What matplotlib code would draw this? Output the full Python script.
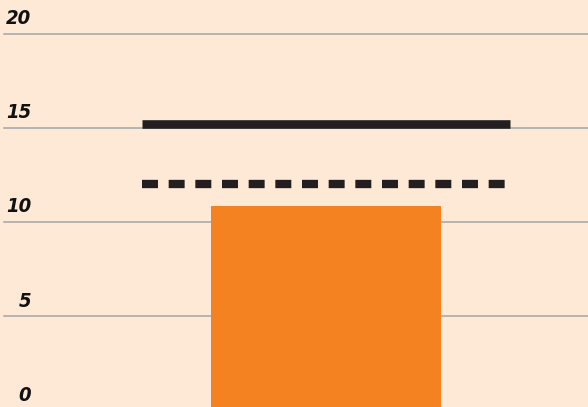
import matplotlib
matplotlib.use("Agg")
from matplotlib import pyplot as plt
from matplotlib import transforms

# data
categories = ['']
bar_values = [10.85]
target_solid = [15.2]
target_dashed = [12.0]
y_ticks = [0, 5, 10, 15, 20]

bg = '#fde9d6'
orange = '#f58220'
dark = '#231f20'
grid_gray = '#a3a5a8'

plt.rcParams['lines.scale_dashes'] = False
plt.rcParams['font.family'] = ['DejaVu Sans']

W, H = 588, 407
fig = plt.figure(figsize=(W / 100, H / 100), dpi=100)
fig.patch.set_facecolor(bg)
ax = fig.add_axes([0, 0, 1, 1])
ax.set_facecolor(bg)

# pixel-based limits: y=0 sits a little below the bottom edge
px_per_unit = 18.84
y0_px = 410.3
ax.set_ylim((y0_px - H) / px_per_unit, y0_px / px_per_unit)
bar_center_px, bar_px_per_x = 326, 460
ax.set_xlim(-bar_center_px / bar_px_per_x, (W - bar_center_px) / bar_px_per_x)

for t in y_ticks:
    ax.axhline(t, xmin=4 / W, xmax=1, color=grid_gray, lw=1.1, zorder=1)

xs = range(len(categories))
ax.bar(xs, bar_values, width=0.5, color=orange, zorder=2)

for i, (s, d) in enumerate(zip(target_solid, target_dashed)):
    ax.plot([i - 0.4, i + 0.4], [s, s], color=dark, lw=6.2,
            solid_capstyle='butt', zorder=3)
    ax.plot([i - 0.4, i + 0.4], [d, d], color=dark, lw=6.0,
            linestyle=(0, (11.5, 7.7)), dash_capstyle='butt', zorder=3)

# tick labels sit above the gridlines on the left
trans = transforms.blended_transform_factory(
    transforms.IdentityTransform(), ax.transData)
for t in y_ticks:
    ax.annotate(str(t), xy=(31, t), xycoords=trans, xytext=(0, 4),
                textcoords='offset points', ha='right', va='bottom',
                fontsize=14.5, fontweight='bold', fontstyle='italic',
                fontstretch='condensed', color='#111111')

ax.axis('off')
fig.savefig('out.png', dpi=100, facecolor=bg)
